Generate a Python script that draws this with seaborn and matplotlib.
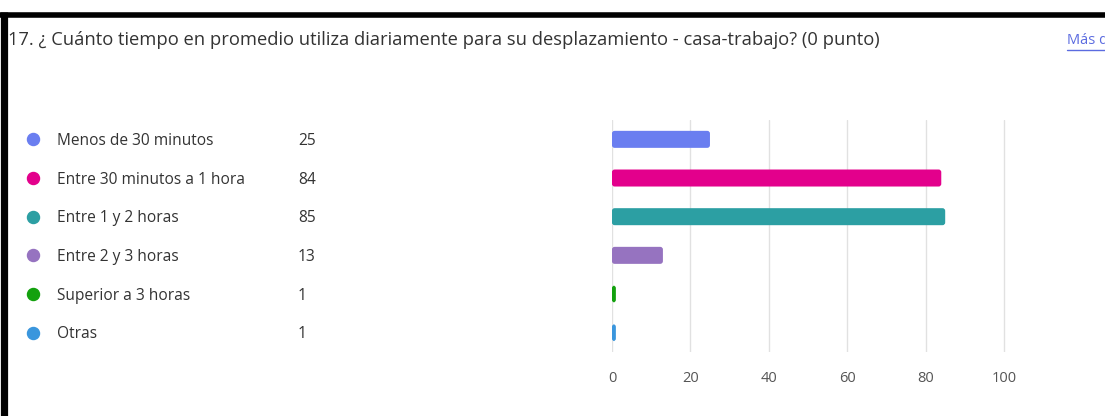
import matplotlib
matplotlib.use("Agg")
import matplotlib.pyplot as plt
import matplotlib.transforms as mtransforms
from matplotlib.patches import FancyBboxPatch
import pandas as pd
import seaborn as sns

# Data
categories = ["Menos de 30 minutos", "Entre 30 minutos a 1 hora", "Entre 1 y 2 horas",
              "Entre 2 y 3 horas", "Superior a 3 horas", "Otras"]
counts = [25, 84, 85, 13, 1, 1]
colors = ["#6a7ef0", "#e3008c", "#2c9fa3", "#9673c0", "#13a10e", "#3a96dd"]
x_ticks = [0, 20, 40, 60, 80, 100]
title = "17. ¿ Cuánto tiempo en promedio utiliza diariamente para su desplazamiento - casa-trabajo? (0 punto)"

df = pd.DataFrame({"opcion": categories, "n": counts})

sns.set_style("white")
plt.rcParams["font.family"] = ["Open Sans", "DejaVu Sans"]

fig = plt.figure(figsize=(11.05, 4.16), dpi=100)
ax = fig.add_axes([0.5538, 0.1538, 0.3548 * 1.02, 0.5577])

sns.barplot(data=df, x="n", y="opcion", hue="opcion", palette=colors, saturation=1,
            orient="h", width=0.44, legend=False, ax=ax)

# swap plain rectangles for slightly rounded bars
for p in list(ax.patches):
    x0, y0 = p.get_x(), p.get_y()
    w, h = p.get_width(), p.get_height()
    fc = p.get_facecolor()
    p.set_visible(False)
    ax.add_patch(FancyBboxPatch((x0, y0), w, h, boxstyle="round,pad=0,rounding_size=0.7",
                                mutation_aspect=0.1, facecolor=fc, edgecolor="none", zorder=3))

ax.set_xlim(0, 102)
ax.set_ylim(5.5, -0.5)
ax.set_xticks(x_ticks)
ax.set_xticklabels([str(t) for t in x_ticks])
ax.set_yticks([])
ax.set_xlabel("")
ax.set_ylabel("")
ax.grid(axis="x", color="#e1e1e1", linewidth=1, zorder=0)
ax.set_axisbelow(True)
for s in ax.spines.values():
    s.set_visible(False)
ax.tick_params(axis="x", length=6, color="#e8e8e8", pad=8, labelsize=10.5, labelcolor="#555555")

# legend on the left: dot, label, count
tr = mtransforms.blended_transform_factory(fig.transFigure, ax.transData)
for i, (cat, n, c) in enumerate(zip(categories, counts, colors)):
    ax.scatter([33 / 1105], [i], s=75, color=c, transform=tr, clip_on=False, zorder=4)
    ax.text(57 / 1105, i + 0.04, cat, transform=tr, va="center", ha="left", fontsize=11.2, color="#333333")
    ax.text(298 / 1105, i + 0.04, str(n), transform=tr, va="center", ha="left", fontsize=11.2, color="#333333")

# title and link (the link is cut at the right edge, as in the original)
fig.text(8 / 1105, 1 - 40 / 416, title, ha="left", va="center", fontsize=13.2, color="#333333")
fig.text(1067 / 1105, 1 - 40 / 416, "Más detalles", ha="left", va="center",
         fontsize=10.5, color="#5b6be0")

# black frame on top and left
fig.add_artist(plt.Line2D([0, 1], [1 - 14.5 / 416, 1 - 14.5 / 416], transform=fig.transFigure,
                          color="black", linewidth=4, solid_capstyle="butt"))
fig.add_artist(plt.Line2D([3.5 / 1105, 3.5 / 1105], [0, 1 - 12 / 416], transform=fig.transFigure,
                          color="black", linewidth=5.2, solid_capstyle="butt"))
fig.add_artist(plt.Line2D([1067 / 1105, 1], [1 - 50 / 416, 1 - 50 / 416], transform=fig.transFigure,
                          color="#5b6be0", linewidth=1))

fig.savefig("out.png", dpi=100, facecolor="white")
